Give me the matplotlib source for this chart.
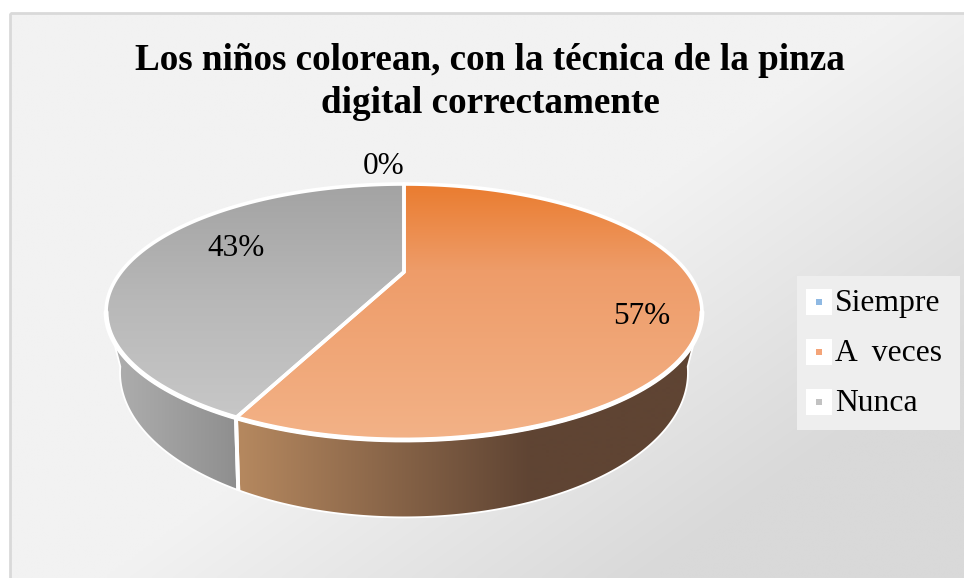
import numpy as np
import matplotlib
matplotlib.use("Agg")
import matplotlib.pyplot as plt
from matplotlib.colors import to_rgb
from matplotlib.patches import Polygon, Rectangle
from matplotlib.legend_handler import HandlerBase

# ---- data
categories = ["Siempre", "A  veces", "Nunca"]
values = [0, 57, 43]
title_text = "Los niños colorean, con la técnica de la pinza\ndigital correctamente"

# ---- styling
top_stops = {"A  veces": [(184, "#ea7c2f"), (270, "#ee9c69"), (440, "#f3b287")],
             "Nunca": [(184, "#a3a3a3"), (300, "#b8b8b8"), (440, "#cacaca")],
             "Siempre": [(184, "#5b9bd5"), (440, "#9dc3e6")]}
wall_stops = {"A  veces": [(240, "#b5885f"), (530, "#5f4433"), (700, "#5f4433")],
              "Nunca": [(106, "#b0b0b0"), (240, "#8e8e8e")],
              "Siempre": [(106, "#3a6a96"), (700, "#3a6a96")]}
legend_marks = ["#8fb9e3", "#f4a478", "#c2c2c2"]
label_pos = {"Siempre": (384, 167), "A  veces": (642, 316), "Nunca": (236, 249)}

W, H = 964, 578
fig = plt.figure(figsize=(W / 100, H / 100), dpi=100, facecolor="white")
ax = fig.add_axes([0, 0, 1, 1])
ax.set_xlim(0, W)
ax.set_ylim(H, 0)
ax.axis("off")
SERIF = "Liberation Serif"

# chart area background with a diagonal gradient
yy, xx = np.mgrid[13:578:200j, 10:964:340j]
t = np.clip(0.00184 * xx + 0.0026 * yy - 1.70, 0, 1)[..., None]
bg = (1 - t) * np.array(to_rgb("#f2f2f2")) + t * np.array(to_rgb("#d9d9d9"))
ax.imshow(bg, extent=(10, 964, 578, 13), aspect="auto", zorder=0, interpolation="bilinear")
ax.add_patch(Rectangle((10, 13), 960, 580, fc="none", ec="#d9d9d9", lw=2, zorder=1))

# perspective projection of the pie disc (top rim and bottom rim)
RIMS = {"top": dict(cy=272.0, a=283.0, b=115.5, k=0.3125),
        "low": dict(cy=322.0, a=266.0, b=127.0, k=0.35)}
CX = 404.0

def project(clock_deg, rim="top"):
    p = RIMS[rim]
    ang = np.radians(clock_deg)
    u, v = np.sin(ang), -np.cos(ang)
    w = 1 - p["k"] * v
    return CX + p["a"] * u / w, p["cy"] + p["b"] * v / w

def vertical_grad(stops):
    ys = np.arange(184, 441)
    py, cols = zip(*stops)
    rgb = np.array([to_rgb(c) for c in cols])
    arr = np.stack([np.interp(ys, py, rgb[:, i]) for i in range(3)], axis=-1)[:, None, :]
    return arr, (0, 964, 440, 184)

def horizontal_grad(stops):
    xs = np.arange(0, 965)
    px, cols = zip(*stops)
    rgb = np.array([to_rgb(c) for c in cols])
    arr = np.stack([np.interp(xs, px, rgb[:, i]) for i in range(3)], axis=-1)[None, ...]
    return arr, (0, 964, 578, 0)

def paint(poly_xy, arr, ext, z, lw):
    ax.add_patch(Polygon(poly_xy, closed=True, fc="none", ec="white", lw=lw,
                         joinstyle="round", zorder=z + 0.5))
    img = ax.imshow(arr, extent=ext, aspect="auto", zorder=z, interpolation="bilinear")
    img.set_clip_path(Polygon(poly_xy, closed=True, transform=ax.transData))

shares = np.array(values, dtype=float) / sum(values)
ends = np.cumsum(shares) * 360
starts = ends - shares * 360
BACK = 90 + np.degrees(np.arcsin(RIMS["top"]["k"]))  # silhouette of the disc

for name, v, s, e in zip(categories, values, starts, ends):
    if v == 0:
        continue
    a0, a1 = max(s, BACK), min(e, 360 - BACK)
    if a1 > a0:
        ang = np.linspace(a0, a1, 160)
        xt, yt = project(ang)
        xb, yb = project(ang, "low")
        wall = np.column_stack([np.r_[xt, xb[::-1]], np.r_[yt, yb[::-1]]])
        arr, ext = horizontal_grad(wall_stops[name])
        paint(wall, arr, ext, 3, 1.3)
        # wider white cut where two slices meet on the wall
        for edge in (s, e):
            if BACK < edge < 360 - BACK:
                x0, y0 = project(edge)
                x1, y1 = project(edge, "low")
                ax.plot([x0, x1], [y0, y1], color="white", lw=2.8, zorder=4,
                        solid_capstyle="butt")

for name, v, s, e in zip(categories, values, starts, ends):
    if v == 0:
        continue
    ang = np.linspace(s, e, 240)
    xt, yt = project(ang)
    face = np.column_stack([np.r_[CX, xt], np.r_[RIMS["top"]["cy"], yt]])
    arr, ext = vertical_grad(top_stops[name])
    paint(face, arr, ext, 5, 2.6)

# heavier white rim along the near side of the disc
front = np.linspace(BACK, 360 - BACK, 300)
fx, fy = project(front)
ax.plot(fx, fy, color="white", lw=3.5, zorder=6, solid_capstyle="round")

# data labels
for name, v in zip(categories, values):
    x, y = label_pos[name]
    ax.text(x, y, f"{v}%", family=SERIF, fontsize=22.5, color="black",
            ha="center", va="center", zorder=8)

# title
ax.text(490, 82, title_text, family=SERIF, fontsize=26.7, fontweight="bold", color="black",
        ha="center", va="center", linespacing=1.27, zorder=8)

# legend: white swatch holding a small coloured mark
class SwatchHandler(HandlerBase):
    def create_artists(self, legend, orig, xd, yd, width, height, fontsize, trans):
        side = 18.7
        x0 = -xd
        y0 = -yd + (height - side) / 2 - 1.5
        outer = Rectangle((x0, y0), side, side, fc="white", ec="none", transform=trans)
        m = 4.2
        inner = Rectangle((x0 + side / 2 - m / 2, y0 + side / 2 - m / 2), m, m,
                          fc=orig.get_facecolor(), ec="none", transform=trans)
        return [outer, inner]

ax.add_patch(Rectangle((797, 276), 163, 154, fc="#eeeeee", ec="none", zorder=7))
handles = [Rectangle((0, 0), 1, 1, fc=c) for c in legend_marks]
leg = ax.legend(handles, categories, loc="upper left", bbox_to_anchor=(797, 280),
                bbox_transform=ax.transData, frameon=False, borderaxespad=0, borderpad=0.28,
                labelspacing=0.66, handlelength=0.81, handletextpad=0.1,
                handler_map={Rectangle: SwatchHandler()},
                prop={"family": SERIF, "size": 22.8})
leg.set_zorder(9)

ax.set_xlim(0, W)
ax.set_ylim(H, 0)
fig.savefig("out.png", dpi=100)
